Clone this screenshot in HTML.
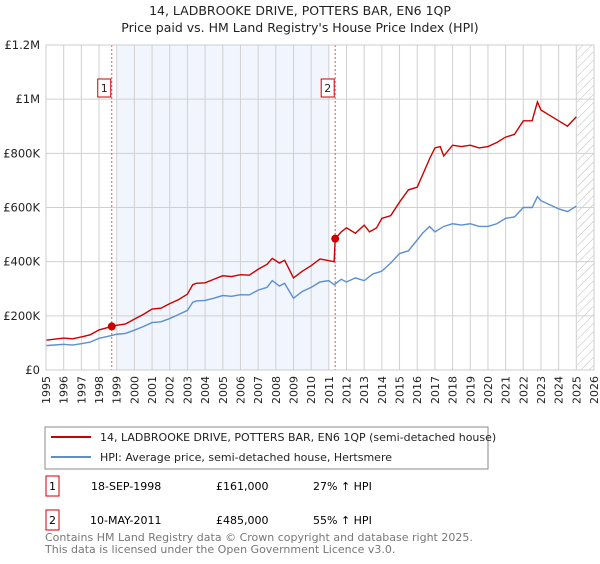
<!DOCTYPE html>
<html><head><meta charset="utf-8"><style>
body{margin:0;background:#fff;font-family:"DejaVu Sans","Liberation Sans",sans-serif;}
svg text{font-family:"DejaVu Sans","Liberation Sans",sans-serif;}
</style></head><body>
<svg id="c" width="600" height="560" xmlns="http://www.w3.org/2000/svg">
<defs><pattern id="hatch" width="6" height="6" patternUnits="userSpaceOnUse" patternTransform="rotate(45)"><line x1="0" y1="0" x2="0" y2="6" stroke="#bbb" stroke-width="1"/></pattern></defs>
<text x="300" y="15" text-anchor="middle" font-size="12.5" fill="#222">14, LADBROOKE DRIVE, POTTERS BAR, EN6 1QP</text>
<text x="300" y="32" text-anchor="middle" font-size="12.5" fill="#222">Price paid vs. HM Land Registry's House Price Index (HPI)</text>
<g id="plot"></g>
<rect x="45" y="427" width="443" height="42" fill="#fff" stroke="#888"/>
<line x1="51" y1="437" x2="91" y2="437" stroke="#cc0000" stroke-width="2"/>
<text x="100" y="441" font-size="11" fill="#222">14, LADBROOKE DRIVE, POTTERS BAR, EN6 1QP (semi-detached house)</text>
<line x1="51" y1="457" x2="91" y2="457" stroke="#5b8fd0" stroke-width="2"/>
<text x="100" y="461" font-size="11" fill="#222">HPI: Average price, semi-detached house, Hertsmere</text>
<g>
<rect x="46" y="476" width="13" height="20" fill="#fff" stroke="#cc0000"/>
<text x="52.5" y="490" text-anchor="middle" font-size="11">1</text>
<text x="91" y="490" font-size="11">18-SEP-1998</text>
<text x="216" y="490" font-size="11">£161,000</text>
<text x="313" y="490" font-size="11">27% ↑ HPI</text></g>
<g>
<rect x="46" y="510" width="13" height="20" fill="#fff" stroke="#cc0000"/>
<text x="52.5" y="524" text-anchor="middle" font-size="11">2</text>
<text x="90" y="524" font-size="11">10-MAY-2011</text>
<text x="216" y="524" font-size="11">£485,000</text>
<text x="313" y="524" font-size="11">55% ↑ HPI</text></g>
<text x="45" y="541" font-size="11" fill="#777">Contains HM Land Registry data © Crown copyright and database right 2025.</text>
<text x="45" y="553" font-size="11" fill="#777">This data is licensed under the Open Government Licence v3.0.</text>
</svg>
<script>
const yTicks=[0,200000,400000,600000,800000,1000000,1200000];
const yTickLabels=["£0","£200K","£400K","£600K","£800K","£1M","£1.2M"];
const xYears=[1995,1996,1997,1998,1999,2000,2001,2002,2003,2004,2005,2006,2007,2008,2009,2010,2011,2012,2013,2014,2015,2016,2017,2018,2019,2020,2021,2022,2023,2024,2025,2026];
const hpiT=[1995,1996,1996.5,1997,1997.5,1998,1998.7,1999,1999.5,2000,2000.5,2001,2001.5,2002,2002.5,2003,2003.3,2003.5,2004,2004.5,2005,2005.5,2006,2006.5,2007,2007.5,2007.8,2008.2,2008.5,2009,2009.5,2010,2010.5,2011,2011.3,2011.7,2012,2012.5,2013,2013.5,2014,2014.5,2015,2015.5,2016,2016.3,2016.7,2017,2017.5,2018,2018.5,2019,2019.5,2020,2020.5,2021,2021.5,2022,2022.5,2022.8,2023,2023.5,2024,2024.5,2025];
const hpiV=[90000,95000,92000,97000,103000,117000,127000,132000,135000,147000,160000,175000,178000,190000,205000,220000,250000,255000,257000,265000,275000,272000,278000,277000,295000,305000,330000,310000,320000,265000,290000,305000,325000,330000,315000,335000,325000,340000,330000,355000,365000,395000,430000,440000,480000,505000,530000,510000,530000,540000,535000,540000,530000,530000,540000,560000,565000,600000,600000,640000,625000,610000,595000,585000,605000];
const priceT=[1995,1996,1996.5,1997,1997.5,1998,1998.72,1999,1999.5,2000,2000.5,2001,2001.5,2002,2002.5,2003,2003.3,2003.5,2004,2004.5,2005,2005.5,2006,2006.5,2007,2007.5,2007.8,2008.2,2008.5,2009,2009.5,2010,2010.5,2011.3,2011.36,2011.7,2012,2012.5,2013,2013.3,2013.7,2014,2014.5,2015,2015.5,2016,2016.3,2016.7,2017,2017.3,2017.5,2018,2018.5,2019,2019.5,2020,2020.5,2021,2021.5,2022,2022.5,2022.8,2023,2023.5,2024,2024.5,2025];
const priceV=[110000,118000,115000,122000,130000,148000,161000,165000,170000,188000,205000,225000,228000,245000,260000,280000,315000,320000,322000,335000,348000,345000,352000,350000,372000,390000,412000,395000,405000,340000,365000,385000,410000,400000,485000,510000,525000,505000,535000,510000,525000,560000,570000,620000,665000,675000,720000,780000,820000,825000,790000,830000,825000,830000,820000,825000,840000,860000,870000,920000,920000,990000,960000,940000,920000,900000,935000];
const saleT=[1998.72,2011.36];
const saleV=[161000,485000];
const saleLabels=["1","2"];
const X0=46,X1=594,Y0=370,Y1=45;
const xs=t=>X0+(t-1995)/31*(X1-X0);
const ys=v=>Y0-v/1200000*(Y0-Y1);
const NS="http://www.w3.org/2000/svg";
const g=document.getElementById('plot');
function mk(tag,at){const e=document.createElementNS(NS,tag);for(const k in at)e.setAttribute(k,at[k]);g.appendChild(e);return e;}
let e=mk('rect',{x:xs(1999),y:Y1,width:xs(2011)-xs(1999),height:Y0-Y1,fill:'#eef3fc',opacity:0.8});


e=mk('rect',{x:xs(2025.05),y:Y1,width:X1-xs(2025.05),height:Y0-Y1,fill:'url(#hatch)'});


xYears.forEach(y=>{const l=mk('line',{x1:xs(y),x2:xs(y),y1:Y1,y2:Y0,stroke:'#d0d0d0','stroke-width':1});


const t=mk('text',{x:0,y:0,'font-size':11,fill:'#222','text-anchor':'end',transform:`translate(${xs(y)+4},${Y0+6}) rotate(-90)`});t.textContent=y;

});
yTicks.forEach((v,i)=>{const l=mk('line',{x1:X0,x2:X1,y1:ys(v),y2:ys(v),stroke:'#d0d0d0','stroke-width':1});


const t=mk('text',{x:X0-6,y:ys(v)+4,'font-size':11.5,fill:'#222','text-anchor':'end'});t.textContent=yTickLabels[i];

});
saleT.forEach((s,i)=>{const l=mk('line',{x1:xs(s),x2:xs(s),y1:Y1,y2:Y0,stroke:'#e05555','stroke-width':1,'stroke-dasharray':'2,2'});


const r=mk('rect',{x:xs(s)-14,y:79,width:13,height:18,fill:'#fff',stroke:'#cc0000'});


const t=mk('text',{x:xs(s)-7.5,y:92,'font-size':11,'text-anchor':'middle',fill:'#222'});t.textContent=saleLabels[i];

});
function line(T,V,c,n){const p=mk('polyline',{points:T.map((t,i)=>xs(t)+','+ys(V[i])).join(' '),fill:'none',stroke:c,'stroke-width':1.4});

}
line(hpiT,hpiV,'#5b8fd0','hpi-line');
line(priceT,priceV,'#cc0000','price-line');
saleT.forEach((s,i)=>{const c=mk('circle',{cx:xs(s),cy:ys(saleV[i]),r:4,fill:'#cc0000'});

});
const a=mk('rect',{x:X0,y:Y1,width:X1-X0,height:Y0-Y1,fill:'none',stroke:'#ccc'});


</script>
</body></html>
